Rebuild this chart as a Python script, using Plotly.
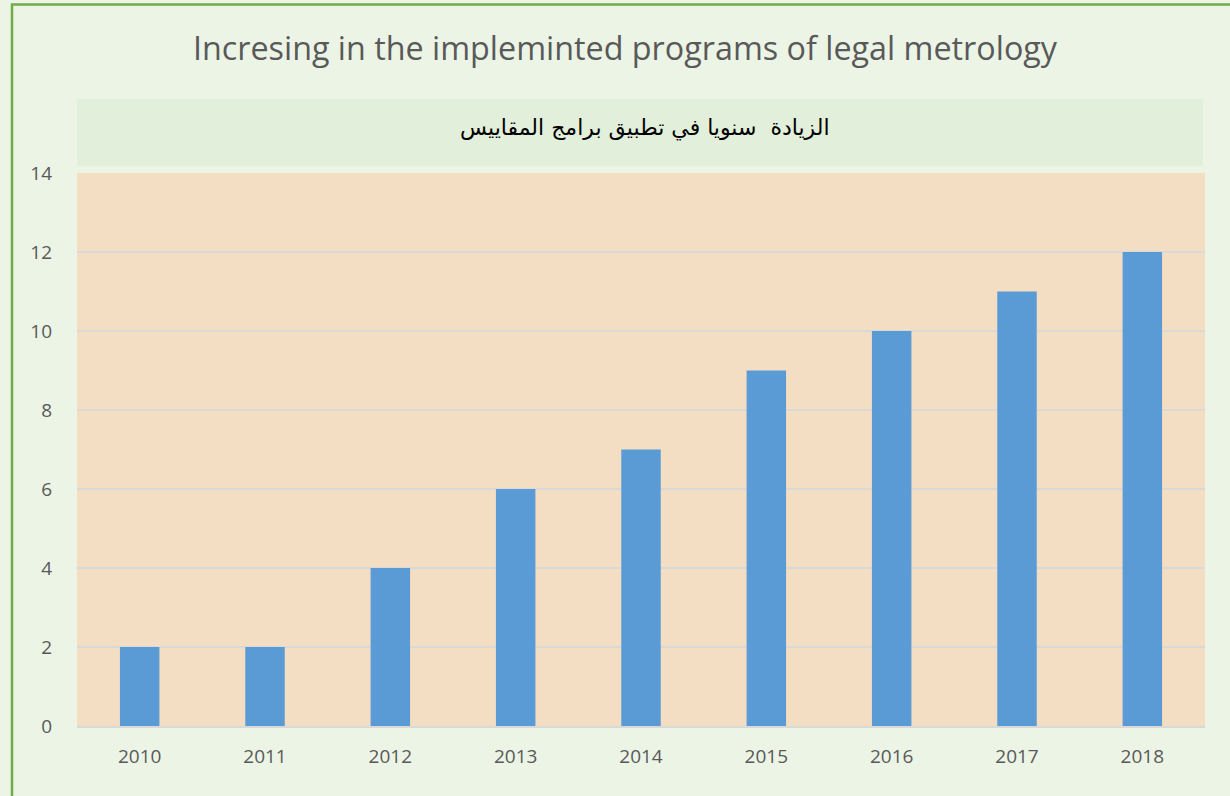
import plotly.graph_objects as go

years = ["2010", "2011", "2012", "2013", "2014", "2015", "2016", "2017", "2018"]
programs = [2, 2, 4, 6, 7, 9, 10, 11, 12]
title_text = "Incresing in the implemintеd programs of legal metrology".replace("е", "e")
subtitle_text = "الزيادة  سنويا في تطبيق برامج المقاييس"

W, H = 1230, 796
L, R, T, B = 77, 25, 173, 70
pw, ph = W - L - R, H - T - B

def px(x):
    return (x - L) / pw

def py(y):
    return (H - B - y) / ph

fig = go.Figure(go.Bar(
    x=years, y=programs,
    marker=dict(color="#5B9BD5", line=dict(width=0)),
    hoverinfo="x+y",
))

tick_font = dict(family="Open Sans, Lato, sans-serif", size=19, color="#595959")

fig.update_layout(
    width=W, height=H,
    margin=dict(l=L, r=R, t=T, b=B),
    paper_bgcolor="#ECF4E6",
    plot_bgcolor="#F3DEC3",
    bargap=0.685,
    showlegend=False,
    title=dict(
        text=title_text,
        xref="paper", x=px(625), xanchor="center",
        y=1 - 49 / H, yanchor="middle",
        font=dict(family="Open Sans, Lato, sans-serif", size=32.3, color="#595959"),
    ),
    xaxis=dict(
        type="category",
        showgrid=False,
        showline=True, linecolor="#D9D9D9", linewidth=2,
        ticks="", ticklabelstandoff=12,
        tickfont=tick_font,
    ),
    yaxis=dict(
        range=[0, 14], dtick=2,
        showgrid=True, gridcolor="#D9D9D9", gridwidth=2,
        zeroline=False,
        showline=False, ticks="",
        tickfont=tick_font,
        ticklabelstandoff=24,
    ),
    shapes=[
        dict(type="rect", xref="paper", yref="paper",
             x0=px(77), x1=px(1203), y0=py(166), y1=py(99),
             fillcolor="#E2EFDA", line=dict(width=0), layer="below"),
        dict(type="rect", xref="paper", yref="paper",
             x0=px(12), x1=px(1240), y0=py(820), y1=py(4.5),
             fillcolor="rgba(0,0,0,0)", line=dict(color="#70AD47", width=2.5)),
    ],
    annotations=[
        dict(text=subtitle_text, xref="paper", yref="paper",
             x=px(645), y=py(128), xanchor="center", yanchor="middle",
             showarrow=False,
             font=dict(family="DejaVu Sans, sans-serif", size=22, color="#000000")),
    ],
)

fig.write_html(
    "out.html",
    config={"displayModeBar": False},
    post_script="document.body.style.margin='0';document.body.style.padding='0';",
)
